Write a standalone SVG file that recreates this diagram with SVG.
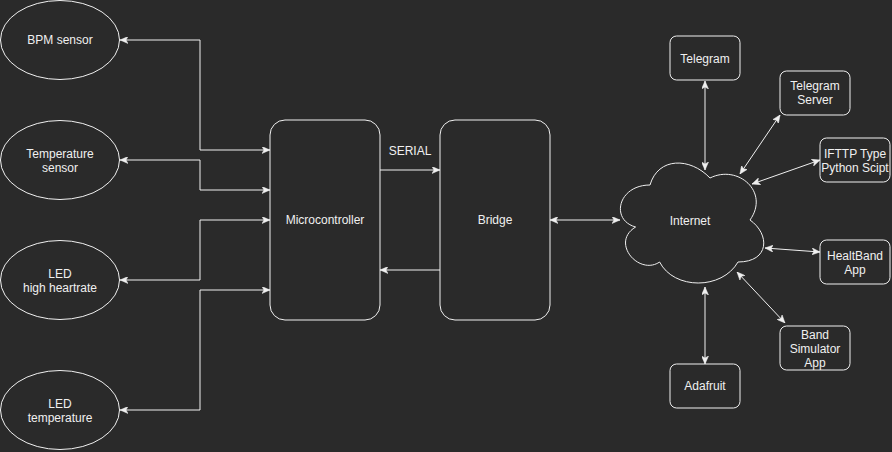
<svg xmlns="http://www.w3.org/2000/svg" width="892" height="452" viewBox="0 0 892 452">
<style>
.bg{fill:#2a2a2a}
.shape{fill:#2a2a2a;stroke:#f0f0f0;stroke-width:1}
.edge{fill:none;stroke:#f0f0f0;stroke-width:1}
.lbl{font-family:"Liberation Sans",Arial,sans-serif;font-size:12px;fill:#f0f0f0;text-anchor:middle}
</style>
<defs>
<marker id="arr" viewBox="0 0 8 7" refX="8" refY="3.5" markerWidth="8" markerHeight="7" markerUnits="userSpaceOnUse" orient="auto-start-reverse">
<path d="M0,0 L8,3.5 L0,7 L2,3.5 Z" fill="#f0f0f0" stroke="#f0f0f0" stroke-width="0.5"/>
</marker>
</defs>
<rect class="bg" x="0" y="0" width="892" height="452"/>

<g id="connectors">
<path class="edge" d="M120,40 H200 V150 H270" marker-start="url(#arr)" marker-end="url(#arr)"/>
<path class="edge" d="M120,160 H200 V190 H270" marker-start="url(#arr)" marker-end="url(#arr)"/>
<path class="edge" d="M120,280 H200 V220 H270" marker-start="url(#arr)" marker-end="url(#arr)"/>
<path class="edge" d="M120,410 H200 V290 H270" marker-start="url(#arr)" marker-end="url(#arr)"/>
<path class="edge" d="M380,170 H440" marker-end="url(#arr)"/>
<path class="edge" d="M440,270 H380" marker-end="url(#arr)"/>
<path class="edge" d="M550,220 H620" marker-start="url(#arr)" marker-end="url(#arr)"/>
<path class="edge" d="M705,81 V170" marker-start="url(#arr)" marker-end="url(#arr)"/>
<path class="edge" d="M780,115 L740,174" marker-start="url(#arr)" marker-end="url(#arr)"/>
<path class="edge" d="M820,160 L752,184" marker-start="url(#arr)" marker-end="url(#arr)"/>
<path class="edge" d="M820,252 L765,248" marker-start="url(#arr)" marker-end="url(#arr)"/>
<path class="edge" d="M785,323 L737,272" marker-start="url(#arr)" marker-end="url(#arr)"/>
<path class="edge" d="M705,287 V364" marker-start="url(#arr)" marker-end="url(#arr)"/>
<text class="lbl" x="410" y="155">SERIAL</text>
</g>

<g id="bpm">
<ellipse class="shape" cx="60" cy="40" rx="59.5" ry="39.5"/>
<text class="lbl" x="60" y="44">BPM sensor</text>
</g>
<g id="temp-sensor">
<ellipse class="shape" cx="60" cy="160" rx="59.5" ry="39.5"/>
<text class="lbl" x="60" y="158">Temperature</text>
<text class="lbl" x="60" y="172">sensor</text>
</g>
<g id="led-hr">
<ellipse class="shape" cx="60" cy="280" rx="59.5" ry="39.5"/>
<text class="lbl" x="60" y="278">LED</text>
<text class="lbl" x="60" y="292">high heartrate</text>
</g>
<g id="led-temp">
<ellipse class="shape" cx="60" cy="410" rx="59.5" ry="39.5"/>
<text class="lbl" x="60" y="408">LED</text>
<text class="lbl" x="60" y="422">temperature</text>
</g>
<g id="micro">
<rect class="shape" x="270" y="120" width="110" height="200" rx="15"/>
<text class="lbl" x="325" y="224">Microcontroller</text>
</g>
<g id="bridge">
<rect class="shape" x="440" y="120" width="110" height="200" rx="15"/>
<text class="lbl" x="495" y="224">Bridge</text>
</g>
<g id="internet">
<path class="shape" transform="translate(610,150)" d="M40,35 C8,35 0,70 25.6,77 C0,92.4 28.8,126 49.6,112 C64,140 112,140 128,112 C160,112 160,84 140,70 C160,42 128,14 100,28 C80,7 48,7 40,35 Z"/>
<text class="lbl" x="690" y="225">Internet</text>
</g>
<g id="telegram">
<rect class="shape" x="670" y="36" width="70" height="44" rx="6.6"/>
<text class="lbl" x="705" y="63">Telegram</text>
</g>
<g id="telegram-server">
<rect class="shape" x="780" y="71" width="70" height="44" rx="6.6"/>
<text class="lbl" x="815" y="90">Telegram</text>
<text class="lbl" x="815" y="104">Server</text>
</g>
<g id="ifttp">
<rect class="shape" x="820" y="138" width="70" height="44" rx="6.6"/>
<text class="lbl" x="855" y="158">IFTTP Type</text>
<text class="lbl" x="855" y="172">Python Scipt</text>
</g>
<g id="healtband">
<rect class="shape" x="820" y="240" width="70" height="44" rx="6.6"/>
<text class="lbl" x="855" y="260">HealtBand</text>
<text class="lbl" x="855" y="274">App</text>
</g>
<g id="band-sim">
<rect class="shape" x="780" y="326" width="70" height="44" rx="6.6"/>
<text class="lbl" x="815" y="339">Band</text>
<text class="lbl" x="815" y="353">Simulator</text>
<text class="lbl" x="815" y="367">App</text>
</g>
<g id="adafruit">
<rect class="shape" x="670" y="364" width="70" height="44" rx="6.6"/>
<text class="lbl" x="705" y="390">Adafruit</text>
</g>
</svg>
